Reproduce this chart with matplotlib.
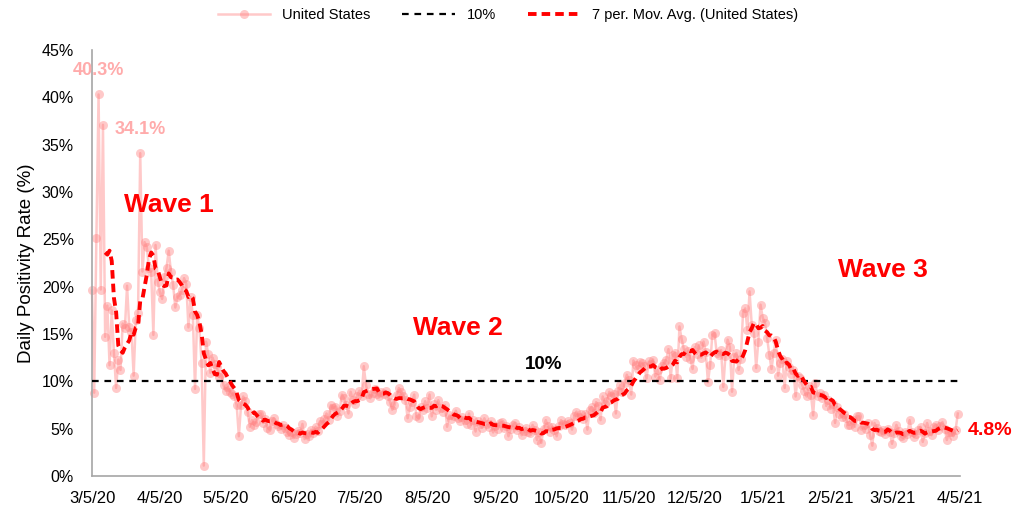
import matplotlib
matplotlib.use('Agg')
import matplotlib.pyplot as plt
from matplotlib.lines import Line2D
import pandas as pd

plt.rcParams['font.family'] = ['Liberation Sans', 'DejaVu Sans']

# daily positivity rate (%), one list per month
mar20 = [19.6, 8.8, 25.1, 40.3, 19.7, 37.1, 14.7, 18.0, 11.7, 17.5, 13.0, 9.3, 12.3, 11.2,
         16.1, 15.6, 20.1, 15.7, 15.2, 10.6, 16.5, 17.2, 34.1, 21.6, 24.7, 24.2, 22.0]
apr20 = [21.5, 14.9, 24.4, 20.5, 19.4, 18.7, 21.0, 22.0, 23.8, 21.6, 20.2, 17.8, 18.9, 19.1,
         19.6, 20.9, 20.3, 15.7, 18.9, 17.0, 9.2, 17.0, 15.6, 11.9, 1.1, 14.2, 12.9, 10.9,
         12.5, 11.8]
may20 = [11.5, 10.5, 10.8, 9.6, 9.0, 9.4, 8.9, 8.7, 8.4, 7.5, 4.2, 7.5, 8.4, 7.9, 6.8, 5.2,
         5.9, 5.4, 5.7, 6.5, 6.6, 5.6, 6.0, 5.1, 4.9, 5.8, 6.1, 5.5, 5.3, 5.0, 5.4]
jun20 = [5.1, 4.7, 4.3, 4.6, 4.0, 4.4, 4.8, 4.5, 5.5, 3.9, 4.4, 4.2, 4.9, 4.5, 5.2, 4.8,
         5.8, 5.5, 6.0, 6.6, 5.9, 7.5, 7.2, 7.3, 6.3, 6.9, 8.6, 8.2, 7.5, 6.6]
jul20 = [8.9, 8.0, 7.6, 8.5, 9.0, 8.4, 11.6, 9.6, 8.7, 8.2, 8.8, 9.2, 8.7, 8.4, 8.9, 8.7,
         9.0, 8.4, 7.8, 7.0, 7.5, 8.6, 9.3, 8.9, 8.5, 8.0, 6.1, 7.3, 7.8, 8.6, 6.3]
aug20 = [6.1, 7.3, 7.0, 7.9, 7.2, 8.6, 6.3, 7.6, 7.0, 8.0, 7.2, 6.8, 7.5, 5.2, 6.4, 6.0,
         6.3, 6.9, 6.1, 5.8, 6.2, 5.9, 5.5, 6.6, 5.4, 5.9, 4.7, 5.8, 5.5, 5.1, 6.1]
sep20 = [5.5, 5.2, 5.8, 4.6, 5.3, 5.0, 5.6, 5.7, 5.1, 5.3, 4.2, 5.0, 5.4, 5.6, 4.9, 5.2,
         4.3, 4.8, 5.1, 4.7, 4.5, 5.4, 4.9, 3.8, 4.6, 3.5, 5.0, 5.9, 5.3, 4.7]
oct20 = [5.2, 4.9, 4.2, 5.3, 5.9, 5.5, 5.4, 5.8, 5.6, 4.9, 6.3, 6.8, 6.2, 6.5, 6.0, 6.6,
         4.9, 7.0, 7.3, 6.7, 7.8, 7.4, 5.9, 8.4, 7.6, 7.9, 8.9, 8.4, 8.7, 6.6, 9.0]
nov20 = [9.6, 8.9, 9.8, 10.7, 10.1, 8.6, 12.2, 11.7, 11.3, 12.0, 11.9, 11.6, 10.3, 12.1,
         11.8, 12.3, 10.5, 11.2, 10.1, 11.6, 11.9, 12.3, 13.4, 10.3, 12.8, 13.0, 10.3, 15.8,
         14.5, 13.4]
dec20 = [12.6, 13.2, 12.4, 11.3, 13.6, 12.9, 13.8, 12.5, 14.2, 13.1, 9.9, 11.7, 14.9, 15.1,
         13.0, 12.8, 13.3, 9.4, 12.7, 14.4, 13.6, 8.9, 12.6, 13.0, 11.2, 12.4, 17.2, 17.7,
         15.4, 19.5, 15.9]
jan21 = [15.1, 11.4, 14.2, 18.1, 16.7, 16.2, 14.6, 12.8, 11.3, 13.0, 14.4, 10.6, 11.9, 12.4,
         9.3, 12.2, 11.5, 10.8, 11.2, 8.4, 10.6, 10.3, 9.6, 9.0, 8.4, 9.5, 8.6, 6.4, 9.8, 8.4,
         8.8]
feb21 = [8.2, 8.6, 7.4, 8.0, 7.1, 7.6, 5.6, 7.3, 6.6, 6.2, 6.5, 6.1, 5.4, 5.4, 5.9, 5.2,
         6.3, 6.3, 4.9, 5.4, 5.0, 5.6, 4.3, 3.2, 5.6, 5.1, 4.8, 4.7]
mar21 = [4.9, 4.4, 5.0, 4.6, 3.4, 4.5, 5.4, 4.8, 4.2, 4.0, 4.7, 4.4, 5.9, 4.6, 4.1, 4.4,
         4.9, 5.2, 3.6, 4.5, 5.6, 4.8, 4.3, 5.2, 5.4, 4.9, 5.3, 5.7, 5.0, 3.8, 4.6]
apr21 = [4.7, 4.2, 4.9, 6.6]

month_starts = ['2020-03-05', '2020-04-01', '2020-05-01', '2020-06-01', '2020-07-01',
                '2020-08-01', '2020-09-01', '2020-10-01', '2020-11-01', '2020-12-01',
                '2021-01-01', '2021-02-01', '2021-03-01', '2021-04-01']
month_vals = [mar20, apr20, may20, jun20, jul20, aug20, sep20, oct20, nov20, dec20,
              jan21, feb21, mar21, apr21]

threshold = 10
tick_dates = pd.date_range('2020-03-05', periods=14, freq=pd.DateOffset(months=1))
wave_labels = ['Wave 1', 'Wave 2', 'Wave 3']
wave_pos = [('2020-04-09', 28.6), ('2020-08-19', 15.6), ('2021-03-01', 21.8)]

parts = []
for start, vals in zip(month_starts, month_vals):
    parts.append(pd.Series(vals, index=pd.date_range(start, periods=len(vals))))
us = pd.concat(parts)
ma = us.rolling(7).mean()

fig = plt.figure(figsize=(10.16, 5.13), dpi=100)
ax = fig.add_axes([92 / 1016, 1 - 476 / 513, (960 - 92) / 1016, (476 - 50) / 513])

ax.plot(us.index, us.values, color='#ff8080', alpha=0.42, lw=1.8, marker='o', ms=6.5,
        mec='none', clip_on=False, zorder=2)
ax.axhline(threshold, color='black', lw=1.6, dashes=(3, 2.6), zorder=3)
ax.plot(ma.index, ma.values, color='red', lw=2.8, dashes=(2.2, 1.3), zorder=4)

ax.set_xlim(pd.Timestamp('2020-03-05'), pd.Timestamp('2021-04-05'))
ax.set_ylim(0, 45)
ax.set_yticks(range(0, 46, 5))
ax.set_yticklabels([f'{v}%' for v in range(0, 46, 5)])
ax.set_xticks(tick_dates)
ax.set_xticklabels([f'{d.month}/{d.day}/{d.strftime("%y")}' for d in tick_dates])
ax.tick_params(axis='x', length=0, pad=11, labelsize=12)
ax.tick_params(axis='y', length=0, pad=13, labelsize=11.5)
for s in ['top', 'right']:
    ax.spines[s].set_visible(False)
for s in ['left', 'bottom']:
    ax.spines[s].set_color('#a6a6a6')
    ax.spines[s].set_linewidth(1.2)
ax.set_ylabel('Daily Positivity Rate (%)', fontsize=13.5, labelpad=5)

# peak labels
for d in [us[:'2020-03-20'].idxmax(), us['2020-03-20':'2020-04-30'].idxmax()]:
    ax.annotate(f'{us[d]:.1f}%', xy=(d, us[d]), xytext=(0, 17), textcoords='offset points',
                ha='center', va='center', color='#ffabab', fontsize=13, fontweight='bold')

for lab, (d, y) in zip(wave_labels, wave_pos):
    ax.text(pd.Timestamp(d), y, lab, color='red', fontsize=19, fontweight='bold',
            ha='center', va='center')
ax.text(pd.Timestamp('2020-09-27'), threshold + 1.8, f'{threshold}%', fontsize=13.5,
        fontweight='bold', ha='center', va='center')
ax.annotate(f'{ma.iloc[-1]:.1f}%', xy=(ma.index[-1], ma.iloc[-1]), xytext=(7, 0),
            textcoords='offset points', ha='left', va='center', color='red', fontsize=14,
            fontweight='bold', annotation_clip=False)

handles = [
    Line2D([], [], color='#ff8080', alpha=0.42, lw=1.8, marker='o', ms=6.5, mec='none'),
    Line2D([], [], color='black', lw=1.6, dashes=(3, 2.6)),
    Line2D([], [], color='red', lw=2.8, dashes=(2.2, 1.3)),
]
fig.legend(handles, ['United States', '10%', '7 per. Mov. Avg. (United States)'],
           loc='upper center', bbox_to_anchor=(0.5, 1.01), ncol=3, frameon=False,
           fontsize=10.5, handlelength=3.6, columnspacing=2.2)

fig.savefig('out.png', dpi=100)
